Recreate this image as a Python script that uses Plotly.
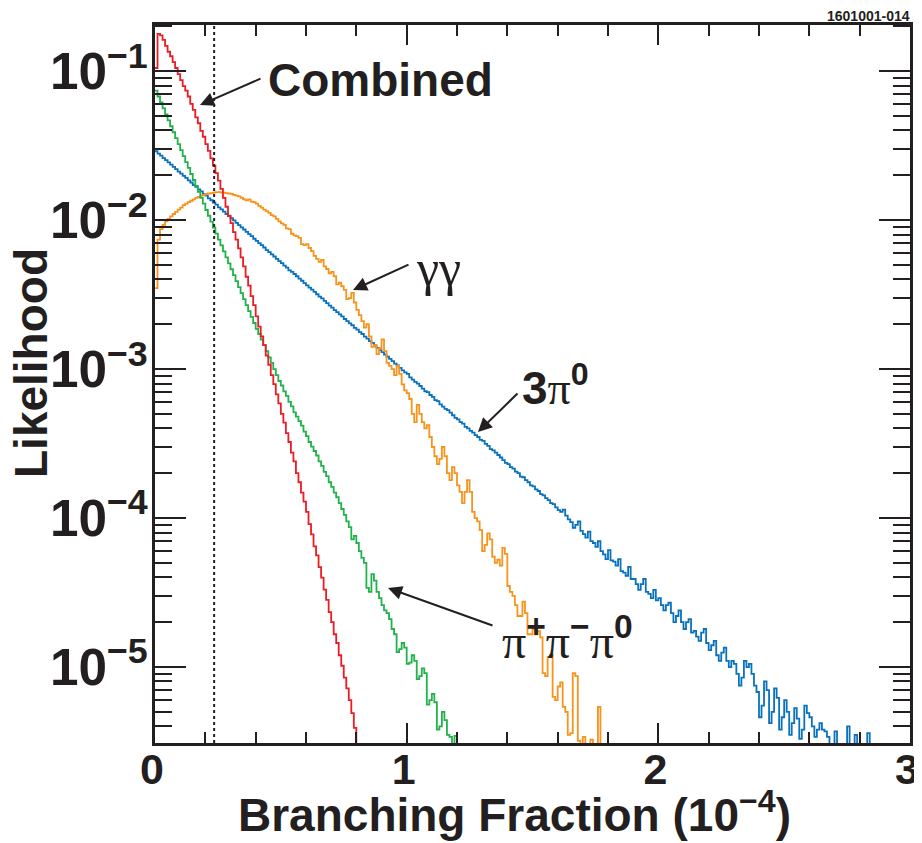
import numpy as np
import plotly.graph_objects as go

# --- likelihood histograms, bins of 0.01 (x 1e-4) starting at 0 ---
BIN_WIDTH = 0.01

combined = [
    0.105, 0.178, 0.174, 0.162, 0.148, 0.135, 0.126, 0.115, 0.105, 0.0955,
    0.0871, 0.0794, 0.0741, 0.0676, 0.0603, 0.0550, 0.0490, 0.0447, 0.0398, 0.0363,
    0.0324, 0.0292, 0.0260, 0.0232, 0.0207, 0.0184, 0.0162, 0.0141, 0.0123, 0.0107,
    9.55e-3, 8.32e-3, 7.41e-3, 6.46e-3, 5.62e-3, 4.90e-3, 4.17e-3, 3.63e-3, 3.09e-3, 2.69e-3,
    2.26e-3, 1.93e-3, 1.66e-3, 1.45e-3, 1.23e-3, 1.07e-3, 9.12e-4, 7.94e-4, 6.76e-4, 5.89e-4,
    5.01e-4, 4.37e-4, 3.72e-4, 3.24e-4, 2.75e-4, 2.40e-4, 2.00e-4, 1.74e-4, 1.48e-4, 1.29e-4,
    1.10e-4, 9.12e-5, 7.76e-5, 6.46e-5, 5.62e-5, 4.68e-5, 3.98e-5, 3.31e-5, 2.82e-5, 2.34e-5,
    2.00e-5, 1.66e-5, 1.45e-5, 1.20e-5, 1.02e-5, 8.5e-6, 7.2e-6, 6.0e-6, 4.9e-6, 3.9e-6,
    2.8e-6,
]

pi_pi_pi0 = [
    0.0741, 0.0676, 0.0617, 0.0562, 0.0513, 0.0468, 0.0427, 0.0389, 0.0355, 0.0324,
    0.0295, 0.0269, 0.0245, 0.0224, 0.0204, 0.0186, 0.0170, 0.0155, 0.0141, 0.0129,
    0.0117, 0.0107, 9.77e-3, 8.91e-3, 8.13e-3, 7.41e-3, 6.76e-3, 6.17e-3, 5.62e-3, 5.13e-3,
    4.68e-3, 4.27e-3, 3.89e-3, 3.55e-3, 3.24e-3, 2.95e-3, 2.69e-3, 2.45e-3, 2.24e-3, 2.04e-3,
    1.86e-3, 1.72e-3, 1.58e-3, 1.45e-3, 1.32e-3, 1.20e-3, 1.10e-3, 1.00e-3, 9.12e-4, 8.32e-4,
    7.76e-4, 7.08e-4, 6.61e-4, 6.03e-4, 5.62e-4, 5.13e-4, 4.79e-4, 4.47e-4, 4.17e-4, 3.80e-4,
    3.55e-4, 3.24e-4, 3.02e-4, 2.82e-4, 2.63e-4, 2.40e-4, 2.24e-4, 2.04e-4, 1.91e-4, 1.74e-4,
    1.62e-4, 1.48e-4, 1.38e-4, 1.26e-4, 1.15e-4, 1.05e-4, 9.5e-5, 8.7e-5, 7.2e-5, 7.6e-5,
    6.8e-5, 6.0e-5, 5.4e-5, 5.0e-5, 3.4e-5, 3.2e-5, 4.2e-5, 3.8e-5, 3.2e-5, 2.9e-5,
    2.6e-5, 2.4e-5, 2.3e-5, 2.1e-5, 1.8e-5, 1.66e-5, 1.26e-5, 1.32e-5, 1.45e-5, 1.35e-5,
    1.05e-5, 1.07e-5, 1.20e-5, 1.10e-5, 8.3e-6, 8.7e-6, 9.8e-6, 9.1e-6, 5.6e-6, 6.0e-6,
    6.6e-6, 5.8e-6, 3.8e-6, 4.0e-6, 5.0e-6, 4.4e-6, 3.5e-6, 3.4e-6, 0, 3.45e-6,
]

gamma_gamma = [
    3.5e-3, 7.4e-3, 8.7e-3, 9.3e-3, 9.8e-3, 1.02e-2, 1.06e-2, 1.10e-2, 1.135e-2, 1.175e-2,
    1.215e-2, 1.26e-2, 1.29e-2, 1.32e-2, 1.35e-2, 1.38e-2, 1.41e-2, 1.43e-2, 1.46e-2, 1.48e-2,
    1.50e-2, 1.51e-2, 1.52e-2, 1.53e-2, 1.54e-2, 1.54e-2, 1.53e-2, 1.53e-2, 1.52e-2, 1.51e-2,
    1.50e-2, 1.48e-2, 1.46e-2, 1.445e-2, 1.41e-2, 1.38e-2, 1.36e-2, 1.38e-2, 1.33e-2, 1.32e-2,
    1.29e-2, 1.245e-2, 1.215e-2, 1.175e-2, 1.15e-2, 1.12e-2, 1.08e-2, 1.06e-2, 1.02e-2, 9.8e-3,
    9.5e-3, 9.3e-3, 8.8e-3, 8.7e-3, 8.1e-3, 7.9e-3, 7.8e-3, 7.6e-3, 6.9e-3, 6.8e-3,
    6.9e-3, 6.5e-3, 6.2e-3, 5.75e-3, 5.5e-3, 5.25e-3, 5.4e-3, 4.9e-3, 4.7e-3, 4.4e-3,
    4.5e-3, 4.2e-3, 3.7e-3, 3.8e-3, 3.6e-3, 3.4e-3, 2.95e-3, 3.0e-3, 3.25e-3, 2.8e-3,
    2.5e-3, 2.3e-3, 2.1e-3, 1.9e-3, 2.0e-3, 1.66e-3, 1.41e-3, 1.45e-3, 1.26e-3, 1.38e-3,
    1.58e-3, 1.32e-3, 1.10e-3, 1.05e-3, 1.0e-3, 9.1e-4, 1.05e-3, 9.3e-4, 7.9e-4, 7.2e-4,
    6.9e-4, 6.3e-4, 5.0e-4, 4.4e-4, 5.75e-4, 5.0e-4, 4.4e-4, 4.0e-4, 4.2e-4, 3.5e-4,
    3.0e-4, 2.6e-4, 2.3e-4, 2.5e-4, 3.0e-4, 2.6e-4, 2.0e-4, 1.8e-4, 2.2e-4, 2.0e-4,
    1.66e-4, 1.5e-4, 1.26e-4, 1.5e-4, 1.8e-4, 1.5e-4, 1.1e-4, 1.0e-4, 9.5e-5, 8.3e-5,
    6.0e-5, 6.6e-5, 7.9e-5, 7.2e-5, 5.5e-5, 5.0e-5, 5.25e-5, 4.8e-5, 6.3e-5, 5.75e-5,
    3.5e-5, 3.2e-5, 3.0e-5, 2.6e-5, 2.2e-5, 2.2e-5, 2.75e-5, 2.3e-5, 1.66e-5, 1.66e-5,
    1.8e-5, 1.66e-5, 1.74e-5, 1.58e-5, 9.1e-6, 8.7e-6, 1.17e-5, 1.2e-5, 6.3e-6, 6.0e-6,
    7.4e-6, 7.9e-6, 5.4e-6, 5.0e-6, 3.5e-6, 3.6e-6, 9.1e-6, 8.7e-6, 3.2e-6, 0,
    3.4e-6, 0, 0, 3.25e-6, 0, 0, 5.4e-6,
]

three_pi0 = [
    2.90e-2, 2.80e-2, 2.71e-2, 2.61e-2, 2.53e-2, 2.44e-2, 2.36e-2, 2.28e-2, 2.20e-2, 2.12e-2,
    2.05e-2, 1.98e-2, 1.92e-2, 1.85e-2, 1.79e-2, 1.72e-2, 1.67e-2, 1.61e-2, 1.56e-2, 1.50e-2,
    1.46e-2, 1.40e-2, 1.36e-2, 1.31e-2, 1.27e-2, 1.22e-2, 1.18e-2, 1.14e-2, 1.10e-2, 1.065e-2,
    1.03e-2, 9.95e-3, 9.6e-3, 9.25e-3, 8.95e-3, 8.65e-3, 8.35e-3, 8.05e-3, 7.8e-3, 7.5e-3,
    7.25e-3, 7.0e-3, 6.8e-3, 6.55e-3, 6.3e-3, 6.1e-3, 5.9e-3, 5.7e-3, 5.5e-3, 5.3e-3,
    5.15e-3, 4.95e-3, 4.8e-3, 4.6e-3, 4.5e-3, 4.35e-3, 4.2e-3, 4.05e-3, 3.92e-3, 3.78e-3,
    3.65e-3, 3.52e-3, 3.42e-3, 3.30e-3, 3.18e-3, 3.07e-3, 2.98e-3, 2.87e-3, 2.77e-3, 2.67e-3,
    2.59e-3, 2.49e-3, 2.41e-3, 2.33e-3, 2.26e-3, 2.17e-3, 2.10e-3, 2.03e-3, 1.97e-3, 1.89e-3,
    1.84e-3, 1.77e-3, 1.72e-3, 1.65e-3, 1.60e-3, 1.54e-3, 1.50e-3, 1.44e-3, 1.39e-3, 1.34e-3,
    1.30e-3, 1.25e-3, 1.21e-3, 1.17e-3, 1.13e-3, 1.09e-3, 1.06e-3, 1.02e-3, 9.8e-4, 9.5e-4,
    9.3e-4, 8.8e-4, 8.5e-4, 8.2e-4, 8.0e-4, 7.7e-4, 7.4e-4, 7.1e-4, 7.0e-4, 6.7e-4,
    6.5e-4, 6.2e-4, 6.1e-4, 5.8e-4, 5.6e-4, 5.4e-4, 5.3e-4, 5.1e-4, 4.9e-4, 4.7e-4,
    4.6e-4, 4.4e-4, 4.3e-4, 4.1e-4, 4.0e-4, 3.85e-4, 3.75e-4, 3.6e-4, 3.5e-4, 3.35e-4,
    3.3e-4, 3.15e-4, 3.05e-4, 2.9e-4, 2.85e-4, 2.75e-4, 2.65e-4, 2.55e-4, 2.45e-4, 2.35e-4,
    2.3e-4, 2.2e-4, 2.15e-4, 2.05e-4, 2.0e-4, 1.9e-4, 1.88e-4, 1.80e-4, 1.74e-4, 1.66e-4,
    1.63e-4, 1.56e-4, 1.52e-4, 1.45e-4, 1.42e-4, 1.36e-4, 1.32e-4, 1.26e-4, 1.24e-4, 1.18e-4,
    1.13e-4, 1.10e-4, 1.14e-4, 1.04e-4, 9.8e-5, 9.4e-5, 8.6e-5, 9.0e-5, 9.5e-5, 8.2e-5,
    7.8e-5, 7.4e-5, 8.1e-5, 7.0e-5, 6.8e-5, 6.4e-5, 7.0e-5, 6.0e-5, 5.7e-5, 5.3e-5,
    6.1e-5, 5.2e-5, 5.1e-5, 4.8e-5, 5.3e-5, 4.4e-5, 4.3e-5, 4.1e-5, 4.7e-5, 3.9e-5,
    3.9e-5, 3.6e-5, 3.3e-5, 3.6e-5, 3.9e-5, 3.2e-5, 3.1e-5, 2.9e-5, 3.3e-5, 2.8e-5,
    2.9e-5, 2.6e-5, 2.4e-5, 2.6e-5, 2.7e-5, 2.3e-5, 2.0e-5, 2.2e-5, 2.4e-5, 2.0e-5,
    1.8e-5, 2.0e-5, 2.1e-5, 1.7e-5, 1.75e-5, 1.6e-5, 1.5e-5, 1.7e-5, 1.8e-5, 1.45e-5,
    1.3e-5, 1.4e-5, 1.5e-5, 1.2e-5, 1.1e-5, 1.25e-5, 1.35e-5, 1.1e-5, 1.0e-5, 1.1e-5,
    1.05e-5, 9.0e-6, 7.5e-6, 8.5e-6, 1.1e-5, 1.0e-5, 1.05e-5, 9.0e-6, 7.5e-6, 6.8e-6,
    4.6e-6, 5.5e-6, 8.0e-6, 7.0e-6, 4.2e-6, 5.0e-6, 7.2e-6, 6.2e-6, 3.8e-6, 4.6e-6,
    6.0e-6, 5.0e-6, 3.5e-6, 4.2e-6, 5.3e-6, 4.5e-6, 3.3e-6, 3.8e-6, 5.5e-6, 4.9e-6,
    4.6e-6, 4.0e-6, 3.4e-6, 3.8e-6, 4.2e-6, 3.8e-6, 3.7e-6, 3.4e-6, 0, 0,
    3.7e-6, 0, 0, 0, 0, 4.0e-6, 0, 0, 3.5e-6, 0,
    0, 0, 0, 3.6e-6,
]

X_TICKS = [0, 1, 2, 3]
UPPER_LIMIT = 0.235
PLOT_TAG = "1601001-014"

# --- styles ---
RED = '#ed1c24'
GREEN = '#22b24c'
BLUE = '#0a72bd'
ORANGE = '#f7941d'
INK = '#231f20'
FONT = "Liberation Sans, Arial, Helvetica, sans-serif"
SERIF = "Liberation Serif, Times New Roman, serif"
FLOOR = 1e-9  # empty bins are drawn below the axis

# the page body puts the figure 8px in from the top-left corner
PAGE_PAD = 8
W, H = 922 - PAGE_PAD, 843 - PAGE_PAD
M = dict(l=147, r=12, t=17, b=100)


def step_trace(values, color, name):
    y = np.asarray(values, dtype=float)
    y = np.where(y > 0, y, FLOOR)
    x = np.arange(len(y) + 1) * BIN_WIDTH
    y = np.append(y, FLOOR)
    return go.Scatter(x=x, y=y, mode='lines', name=name,
                      line=dict(color=color, width=1.8, shape='hv'),
                      hoverinfo='skip')


fig = go.Figure()
fig.add_trace(step_trace(three_pi0, BLUE, '3pi0'))
fig.add_trace(step_trace(gamma_gamma, ORANGE, 'gg'))
fig.add_trace(step_trace(pi_pi_pi0, GREEN, 'pi+pi-pi0'))
fig.add_trace(step_trace(combined, RED, 'Combined'))

# upper limit marker
fig.add_shape(type='line', xref='x', yref='paper', x0=UPPER_LIMIT, x1=UPPER_LIMIT,
              y0=0, y1=1, line=dict(color=INK, width=2, dash='dot'))


def px_to_paper(px, py):
    # px, py: position on the screenshot page
    px, py = px - PAGE_PAD, py - PAGE_PAD
    pw = W - M['l'] - M['r']
    ph = H - M['t'] - M['b']
    return (px - M['l']) / pw, (H - M['b'] - py) / ph


def label(px, py, text, size=46, anchor='left', family=FONT, weight='bold', angle=0,
          vanchor='middle'):
    x, y = px_to_paper(px, py)
    fig.add_annotation(xref='paper', yref='paper', x=x, y=y, text=text,
                       showarrow=False, xanchor=anchor, yanchor=vanchor, textangle=angle,
                       font=dict(family=family, size=size, color=INK, weight=weight))


def arrow(tip, tail):
    x, y = px_to_paper(*tip)
    fig.add_annotation(xref='paper', yref='paper', x=x, y=y, text='',
                       showarrow=True, ax=tail[0] - tip[0], ay=tail[1] - tip[1],
                       arrowhead=2, arrowsize=1.4, arrowwidth=2, arrowcolor=INK)


PI = f"<span style='font-family:{SERIF};font-weight:normal'>π</span>"

# curve labels
label(266, 80, "Combined")
arrow((200, 105), (262, 78))

label(414, 268, "γγ", size=50, family=SERIF, weight='normal')
arrow((353, 290), (410, 264))

label(520, 385, f"3{PI}<sup>0</sup>")
arrow((478, 432), (519, 392))

label(500, 638, f"{PI}<sup>+</sup>{PI}<sup>−</sup>{PI}<sup>0</sup>", size=48)
arrow((388, 588), (494, 626))

# axis titles and tag
label(31, 363, "Likelihood", angle=-90, anchor='center')
label(514, 812, "Branching Fraction (10<sup>−4</sup>)", anchor='center')
label(912, 16, PLOT_TAG, size=14, anchor='right')

axis_common = dict(
    showline=True, linecolor=INK, linewidth=3, mirror='allticks',
    ticks='inside', tickcolor=INK, tickwidth=2,
    showgrid=False, zeroline=False, automargin=False,
)

fig.update_layout(
    width=W, height=H,
    margin=M,
    paper_bgcolor='white', plot_bgcolor='white',
    showlegend=False,
    font=dict(family=FONT, color=INK),
    xaxis=dict(**axis_common, range=[0, 3], tickvals=X_TICKS, ticklen=20,
               ticklabelstandoff=-14, ticklabelshift=-3,
               tickfont=dict(family=FONT, size=43, color=INK, weight='bold'),
               minor=dict(dtick=0.2, ticks='inside', ticklen=11, tickcolor=INK, tickwidth=2)),
    yaxis=dict(**axis_common, type='log', range=[-5.51, -0.69], dtick=1,
               exponentformat='power', showexponent='all', ticklen=31,
               ticklabelstandoff=-4,
               tickfont=dict(family=FONT, size=41, color=INK, weight='bold'),
               minor=dict(dtick='D1', ticks='inside', ticklen=17, tickcolor=INK, tickwidth=2)),
)

fig.write_html("out.html")
